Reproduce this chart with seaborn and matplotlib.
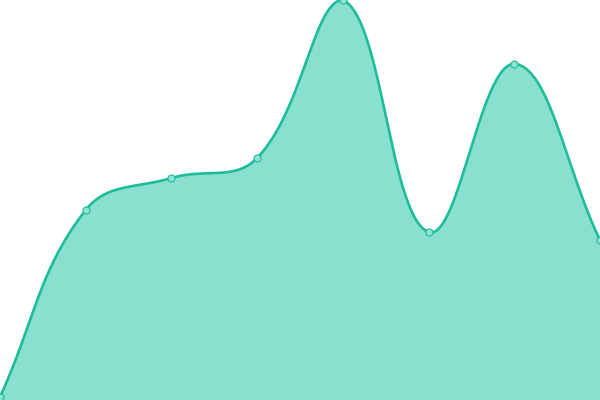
import numpy as np
import pandas as pd
import matplotlib
matplotlib.use("Agg")
import matplotlib.pyplot as plt
import seaborn as sns

categories = ["A", "B", "C", "D", "E", "F", "G", "H"]
values = [3, 190, 222, 242, 400, 168, 336, 160]

LINE = "#1dbc9b"
AREA = "#89e0cf"
MARK = "#8fe2d1"

sns.set_theme(style="white")

W, H = 600, 400
fig = plt.figure(figsize=(6, 4), dpi=100)
ax = fig.add_axes([0, 0, 1, 1])
n = len(values)

# pixel-space coordinates for the spline smoothing
sx = W / (n - 1)
sy = H / 400.0
px = np.arange(n) * sx
py = np.array(values, dtype=float) * sy


def spline_path(px, py, t=0.4, samples=60):
    m = len(px)
    cin = [None] * m
    cout = [None] * m
    for i in range(m):
        p = np.array([px[i], py[i]])
        prev = np.array([px[i - 1], py[i - 1]]) if i > 0 else p
        nxt = np.array([px[i + 1], py[i + 1]]) if i < m - 1 else p
        d01 = np.hypot(*(p - prev))
        d12 = np.hypot(*(nxt - p))
        tot = d01 + d12
        s01 = d01 / tot if tot else 0
        s12 = d12 / tot if tot else 0
        fa, fb = t * s01, t * s12
        a = p - fa * (nxt - prev)
        b = p + fb * (nxt - prev)
        a = np.array([np.clip(a[0], 0, W), np.clip(a[1], 0, H)])
        b = np.array([np.clip(b[0], 0, W), np.clip(b[1], 0, H)])
        cin[i], cout[i] = a, b
    xs, ys = [], []
    tt = np.linspace(0, 1, samples)
    for i in range(m - 1):
        p0 = np.array([px[i], py[i]])
        p3 = np.array([px[i + 1], py[i + 1]])
        c1, c2 = cout[i], cin[i + 1]
        bx = (1 - tt) ** 3 * p0[0] + 3 * (1 - tt) ** 2 * tt * c1[0] + 3 * (1 - tt) * tt ** 2 * c2[0] + tt ** 3 * p3[0]
        by = (1 - tt) ** 3 * p0[1] + 3 * (1 - tt) ** 2 * tt * c1[1] + 3 * (1 - tt) * tt ** 2 * c2[1] + tt ** 3 * p3[1]
        if i > 0:
            bx, by = bx[1:], by[1:]
        xs.append(bx)
        ys.append(by)
    return np.concatenate(xs), np.concatenate(ys)


cx, cy = spline_path(px, py)
curve_x = cx / sx
curve_y = cy / sy

ax.fill_between(curve_x, 0, curve_y, color=AREA, linewidth=0, zorder=1)
ax.plot(curve_x, curve_y, color=LINE, linewidth=1.9, solid_capstyle="round", zorder=2)

df = pd.DataFrame({"idx": np.arange(n), "cat": categories, "value": values})
sns.scatterplot(data=df, x="idx", y="value", ax=ax, s=26, color=MARK,
                edgecolor=LINE, linewidth=0.8, zorder=3, legend=False)
ax.set_xlim(0, n - 1)
ax.set_ylim(0, 400)
ax.axis("off")

fig.savefig("out.png", dpi=100)
